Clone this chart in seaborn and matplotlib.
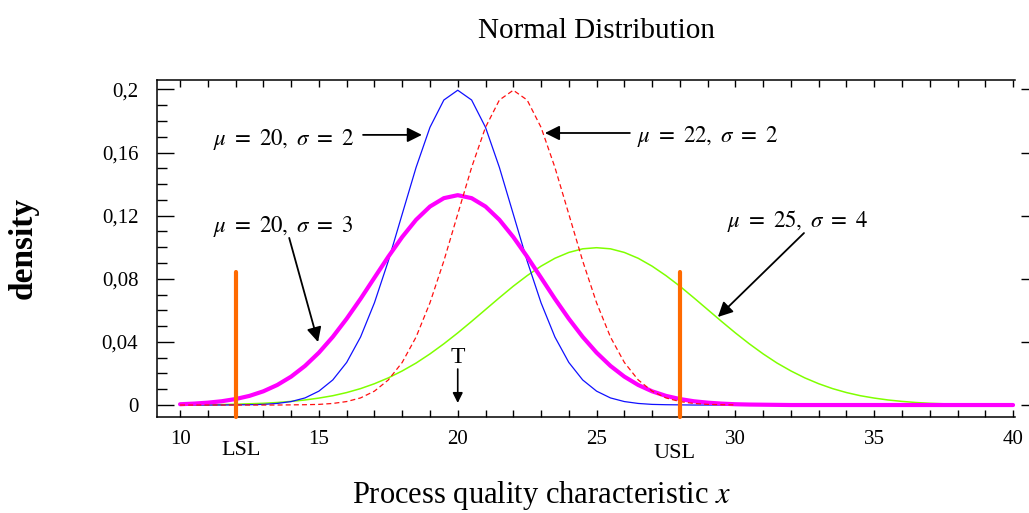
import numpy as np
import pandas as pd
import matplotlib
matplotlib.use("Agg")
import matplotlib.pyplot as plt
from matplotlib.ticker import FixedLocator, MultipleLocator, FixedFormatter
import seaborn as sns

# x grid the curves were read at
x_grid = np.arange(10, 40.5, 0.5)

# densities (x = 10 .. 30 for the sigma=2 curves, 10 .. 40 for the others)
dens_m20_s2 = [0.0000, 0.0000, 0.0000, 0.0000, 0.0001, 0.0002, 0.0004, 0.0010, 0.0022, 0.0045,
               0.0088, 0.0159, 0.0270, 0.0431, 0.0648, 0.0913, 0.1210, 0.1506, 0.1760, 0.1933,
               0.1995, 0.1933, 0.1760, 0.1506, 0.1210, 0.0913, 0.0648, 0.0431, 0.0270, 0.0159,
               0.0088, 0.0045, 0.0022, 0.0010, 0.0004, 0.0002, 0.0001, 0.0000, 0.0000, 0.0000,
               0.0000]
dens_m22_s2 = [0.0000, 0.0000, 0.0000, 0.0000, 0.0000, 0.0000, 0.0000, 0.0000, 0.0001, 0.0002,
               0.0004, 0.0010, 0.0022, 0.0045, 0.0088, 0.0159, 0.0270, 0.0431, 0.0648, 0.0913,
               0.1210, 0.1506, 0.1760, 0.1933, 0.1995, 0.1933, 0.1760, 0.1506, 0.1210, 0.0913,
               0.0648, 0.0431, 0.0270, 0.0159, 0.0088, 0.0045, 0.0022, 0.0010, 0.0004, 0.0002,
               0.0001]
dens_m20_s3 = [0.0005, 0.0009, 0.0015, 0.0024, 0.0038, 0.0058, 0.0087, 0.0127, 0.0180, 0.0248,
               0.0332, 0.0432, 0.0547, 0.0673, 0.0807, 0.0940, 0.1065, 0.1174, 0.1258, 0.1311,
               0.1330, 0.1311, 0.1258, 0.1174, 0.1065, 0.0940, 0.0807, 0.0673, 0.0547, 0.0432,
               0.0332, 0.0248, 0.0180, 0.0127, 0.0087, 0.0058, 0.0038, 0.0024, 0.0015, 0.0009,
               0.0005, 0.0003, 0.0002, 0.0001, 0.0000, 0.0000, 0.0000, 0.0000, 0.0000, 0.0000,
               0.0000, 0.0000, 0.0000, 0.0000, 0.0000, 0.0000, 0.0000, 0.0000, 0.0000, 0.0000,
               0.0000]
dens_m25_s4 = [0.0001, 0.0001, 0.0002, 0.0003, 0.0005, 0.0008, 0.0011, 0.0016, 0.0023, 0.0032,
               0.0044, 0.0059, 0.0079, 0.0104, 0.0135, 0.0172, 0.0216, 0.0266, 0.0324, 0.0388,
               0.0457, 0.0530, 0.0605, 0.0680, 0.0753, 0.0820, 0.0880, 0.0930, 0.0967, 0.0990,
               0.0997, 0.0990, 0.0967, 0.0930, 0.0880, 0.0820, 0.0753, 0.0680, 0.0605, 0.0530,
               0.0457, 0.0388, 0.0324, 0.0266, 0.0216, 0.0172, 0.0135, 0.0104, 0.0079, 0.0059,
               0.0044, 0.0032, 0.0023, 0.0016, 0.0011, 0.0008, 0.0005, 0.0003, 0.0002, 0.0001,
               0.0001]

curve_labels = [r"$\mu\ =\ 20,\ \sigma\ =\ 2$", r"$\mu\ =\ 22,\ \sigma\ =\ 2$",
                r"$\mu\ =\ 20,\ \sigma\ =\ 3$", r"$\mu\ =\ 25,\ \sigma\ =\ 4$"]

spec_limits = [12, 28]
spec_names = ["LSL", "USL"]
spec_top = 0.084
target = 20

x_ticks = [10, 15, 20, 25, 30, 35, 40]
y_ticks = [0, 0.04, 0.08, 0.12, 0.16, 0.2]
y_tick_labels = ["0", "0,04", "0,08", "0,12", "0,16", "0,2"]

sns.set_style("ticks")
plt.rcParams["font.family"] = ["Liberation Serif", "DejaVu Serif"]
plt.rcParams["mathtext.fontset"] = "stix"
for key in ["text.color", "axes.labelcolor", "xtick.color", "ytick.color", "axes.edgecolor"]:
    plt.rcParams[key] = "black"

fig = plt.figure(figsize=(10.29, 5.13), dpi=100)
ax = fig.add_axes([0.1526, 0.1871, 0.8338, 0.657])

n2 = len(dens_m20_s2)
sns.lineplot(x=x_grid, y=dens_m25_s4, ax=ax, color="#80FF00", lw=1.1)
sns.lineplot(x=x_grid[:n2], y=dens_m20_s2, ax=ax, color="#1010FF", lw=0.9)
sns.lineplot(x=x_grid, y=dens_m20_s3, ax=ax, color="#FF00FF", lw=3.0)
sns.lineplot(x=x_grid[:n2], y=dens_m22_s2, ax=ax, color="#FF1010", lw=0.9,
             linestyle=(0, (4, 2.5)))

# spec limits
for xs, name, ty in zip(spec_limits, spec_names, [-0.0317, -0.0336]):
    ax.plot([xs, xs], [-0.0076, spec_top], color="#FF6A00", lw=3.0,
            solid_capstyle="round", clip_on=False, zorder=5)
    ax.text(xs + 0.2 * (1 if name == "LSL" else -1), ty, name, ha="center",
            va="baseline", fontsize=16, clip_on=False)

ax.set_xlim(9.17, 40.07)
ax.set_ylim(-0.0076, 0.206)

# ticks
ax.xaxis.set_major_locator(FixedLocator(x_ticks))
ax.xaxis.set_minor_locator(MultipleLocator(1))
ax.yaxis.set_major_locator(FixedLocator(y_ticks))
ax.yaxis.set_major_formatter(FixedFormatter(y_tick_labels))
ax.yaxis.set_minor_locator(MultipleLocator(0.01))
ax.tick_params(axis="x", which="both", direction="in", length=5, width=1,
               top=True, labelsize=15, pad=9.5)
ax.tick_params(axis="y", which="major", direction="in", length=12, width=1,
               labelsize=15, pad=13.5, right=False)
ax.tick_params(axis="y", which="minor", direction="in", length=7, width=1, right=False)

# outer tick marks on the right side, no spine there
ax2 = ax.twinx()
ax2.set_ylim(ax.get_ylim())
ax2.yaxis.set_major_locator(FixedLocator(y_ticks))
ax2.tick_params(axis="y", which="major", direction="out", length=9, width=1,
                labelright=False)
ax2.spines["right"].set_position(("outward", 4.3))
for s in ax2.spines.values():
    s.set_color("none")

for side in ["left", "bottom", "top"]:
    ax.spines[side].set_linewidth(1.1)
    ax.spines[side].set_color("black")
ax.spines["right"].set_visible(False)
ax.set_xlabel("")
ax.set_ylabel("")

# annotations
arrow = dict(arrowstyle="-|>", color="black", lw=1.3, mutation_scale=22,
             shrinkA=0, shrinkB=0)
ax.annotate("", xy=(18.71, 0.1712), xytext=(16.59, 0.1712), arrowprops=arrow)
ax.text(11.19, 0.1648, curve_labels[0], fontsize=16.5, va="baseline")
ax.annotate("", xy=(23.14, 0.1724), xytext=(26.20, 0.1724), arrowprops=arrow)
ax.text(26.46, 0.1667, curve_labels[1], fontsize=16.5, va="baseline")
ax.annotate("", xy=(14.97, 0.0399), xytext=(13.93, 0.1059), arrowprops=arrow)
ax.text(11.19, 0.1097, curve_labels[2], fontsize=16.5, va="baseline")
ax.annotate("", xy=(29.37, 0.0558), xytext=(32.47, 0.1090), arrowprops=arrow)
ax.text(29.70, 0.1128, curve_labels[3], fontsize=16.5, va="baseline")

ax.text(target, 0.0266, "T", fontsize=17, ha="center", va="baseline")
ax.annotate("", xy=(target, 0.0013), xytext=(target, 0.0228),
            arrowprops=dict(arrowstyle="-|>", color="black", lw=1.2,
                            mutation_scale=15, shrinkA=0, shrinkB=0))

fig.text(596 / 1029, 1 - 38 / 513, "Normal Distribution", fontsize=21,
         ha="center", va="baseline")
fig.text(23 / 1029, 1 - 248 / 513, "density", fontsize=24, fontweight="bold",
         rotation=90, ha="center", va="center")
fig.text(541 / 1029, 1 - 503 / 513, "Process quality characteristic $x$", fontsize=22,
         ha="center", va="baseline")
fig.savefig("out.png", dpi=100)
